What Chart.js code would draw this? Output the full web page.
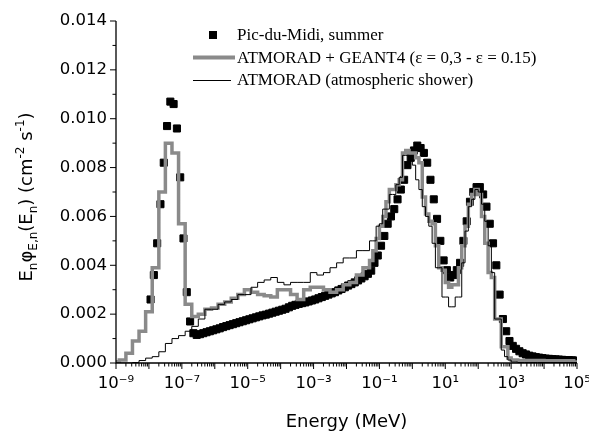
<!DOCTYPE html>
<html>
<head>
<meta charset="utf-8">
<script src="https://cdn.jsdelivr.net/npm/chart.js@4.4.0/dist/chart.umd.min.js"></script>
<style>
  html, body { margin: 0; padding: 0; background: #fff; }
</style>
</head>
<body>
<canvas id="chart" width="589" height="434"></canvas>
<script>
// Pic-du-Midi measurement, summer (0.1 decade grid)
const pdmEnergy = [
  1.12e-8, 1.41e-8, 1.78e-8, 2.24e-8, 2.82e-8, 3.55e-8, 4.47e-8, 5.62e-8, 7.08e-8, 8.91e-8,
  1.12e-7, 1.41e-7, 1.78e-7, 2.24e-7, 2.82e-7, 3.55e-7, 4.47e-7, 5.62e-7, 7.08e-7, 8.91e-7,
  1.12e-6, 1.41e-6, 1.78e-6, 2.24e-6, 2.82e-6, 3.55e-6, 4.47e-6, 5.62e-6, 7.08e-6, 8.91e-6,
  1.12e-5, 1.41e-5, 1.78e-5, 2.24e-5, 2.82e-5, 3.55e-5, 4.47e-5, 5.62e-5, 7.08e-5, 8.91e-5,
  1.12e-4, 1.41e-4, 1.78e-4, 2.24e-4, 2.82e-4, 3.55e-4, 4.47e-4, 5.62e-4, 7.08e-4, 8.91e-4,
  1.12e-3, 1.41e-3, 1.78e-3, 2.24e-3, 2.82e-3, 3.55e-3, 4.47e-3, 5.62e-3, 7.08e-3, 8.91e-3,
  1.12e-2, 1.41e-2, 1.78e-2, 2.24e-2, 2.82e-2, 3.55e-2, 4.47e-2, 5.62e-2, 7.08e-2, 8.91e-2,
  0.112, 0.141, 0.178, 0.224, 0.282, 0.355, 0.447, 0.562, 0.708, 0.891,
  1.12, 1.41, 1.78, 2.24, 2.82, 3.55, 4.47, 5.62, 7.08, 8.91,
  11.2, 14.1, 17.8, 22.4, 28.2, 35.5, 44.7, 56.2, 70.8, 89.1,
  112, 141, 178, 224, 282, 355, 447, 562, 708, 891,
  1120, 1410, 1780, 2240, 2820, 3550, 4470, 5620, 7080, 8910,
  11200, 14100, 17800, 22400, 28200, 35500, 44700, 56200, 70800, 89100
];
const pdmFlux = [
  0.0026, 0.0036, 0.0049, 0.0065, 0.0082, 0.0097, 0.0107, 0.0106, 0.0096, 0.0076,
  0.0051, 0.0029, 0.0017, 0.00122, 0.00115, 0.00118, 0.00122, 0.00126, 0.0013, 0.00134,
  0.00138, 0.00142, 0.00147, 0.00151, 0.00155, 0.00159, 0.00163, 0.00167, 0.00171, 0.00175,
  0.00179, 0.00183, 0.00187, 0.00191, 0.00195, 0.00198, 0.00202, 0.00206, 0.0021, 0.00214,
  0.00218, 0.00222, 0.00228, 0.00234, 0.00238, 0.00242, 0.00245, 0.00248, 0.00252, 0.00256,
  0.0026, 0.00265, 0.0027, 0.00275, 0.0028, 0.00285, 0.0029, 0.00297, 0.00303, 0.0031,
  0.00317, 0.00323, 0.0033, 0.00338, 0.00346, 0.00355, 0.00365, 0.00378, 0.0041, 0.0044,
  0.0048, 0.0052, 0.0057, 0.006, 0.0063, 0.0067, 0.0071, 0.0075, 0.0081, 0.0084,
  0.0087, 0.0089, 0.0088, 0.0086, 0.0082, 0.0075, 0.0067, 0.0059, 0.005, 0.0042,
  0.0038, 0.0035, 0.0036, 0.0038, 0.0041, 0.005, 0.0058, 0.0066, 0.007, 0.0072,
  0.0072, 0.0069, 0.0064, 0.0057, 0.0049, 0.004, 0.0028, 0.0018, 0.0013, 0.0009,
  0.0007, 0.00058, 0.00048, 0.0004, 0.00035, 0.0003, 0.00027, 0.00024, 0.00022, 0.0002,
  0.00018, 0.00017, 0.00016, 0.00015, 0.00014, 0.00013, 0.00012, 0.00012, 0.00011, 0.0001
];

// simulation histograms (left bin edges)
const binEdges = [
  1e-9, 1.26e-9, 2e-9, 3.16e-9, 5.01e-9, 7.94e-9,
  1.26e-8, 2e-8, 3.16e-8, 5.01e-8, 7.94e-8,
  1.26e-7, 2e-7, 3.16e-7, 5.01e-7, 7.94e-7,
  1.26e-6, 2e-6, 3.16e-6, 5.01e-6, 7.94e-6,
  1.26e-5, 2e-5, 3.16e-5, 5.01e-5, 7.94e-5,
  1.26e-4, 2e-4, 3.16e-4, 5.01e-4, 7.94e-4,
  1.26e-3, 2e-3, 3.16e-3, 5.01e-3, 7.94e-3,
  1.26e-2, 2e-2, 3.16e-2, 5.01e-2, 6.31e-2, 7.94e-2,
  0.1, 0.126, 0.158, 0.2, 0.251, 0.316, 0.398, 0.501, 0.631, 0.794,
  1, 1.26, 1.58, 2, 2.51, 3.16, 3.98, 5.01, 6.31, 7.94,
  10, 12.6, 15.8, 20, 25.1, 31.6, 39.8, 50.1, 63.1, 79.4,
  100, 126, 158, 200, 251, 316, 398, 501, 631, 794,
  1000, 1585, 2512, 3981, 6310,
  10000, 15850, 25120, 39810, 63100, 79400, 100000
];
const geantFlux = [
  0.00005, 0.00012, 0.0004, 0.0009, 0.0013, 0.0021,
  0.0039, 0.007, 0.009, 0.0086, 0.0057,
  0.0024, 0.0019, 0.002, 0.0022, 0.00225,
  0.0024, 0.0025, 0.00265, 0.0028, 0.003,
  0.0029, 0.0028, 0.00275, 0.0027, 0.003,
  0.003, 0.0028, 0.0026, 0.003, 0.0031,
  0.0031, 0.003, 0.0029, 0.003, 0.0032,
  0.0033, 0.0036, 0.0039, 0.0042, 0.0046, 0.0051,
  0.0056, 0.006, 0.0066, 0.0071, 0.0071, 0.0073, 0.0075, 0.0086, 0.0087, 0.0086,
  0.0086, 0.0084, 0.0082, 0.0068, 0.0061, 0.0058, 0.0057, 0.0048, 0.0039, 0.0038,
  0.0033, 0.0031, 0.0032, 0.0032, 0.0039, 0.0048, 0.0056, 0.0065, 0.0069, 0.0071,
  0.0069, 0.006, 0.0049, 0.0037, 0.0035, 0.0018, 0.0018, 0.00067, 0.00067, 0.0002,
  0.00012, 0.0001, 0.0001, 0.0001, 0.0001,
  0.00009, 0.00009, 0.00009, 0.00009, 0.00009, 0.00004, 0.00004
];
const atmoradFlux = [
  0, 0, 0, 0.00002, 0.0001, 0.0002,
  0.00026, 0.00046, 0.0008, 0.001, 0.00112,
  0.0013, 0.0015, 0.0018, 0.0022, 0.0022,
  0.0024, 0.0025, 0.0026, 0.0028, 0.0028,
  0.0031, 0.0033, 0.0034, 0.0035, 0.0033,
  0.0032, 0.0033, 0.0033, 0.0033, 0.0037,
  0.0036, 0.0037, 0.0039, 0.0041, 0.0043,
  0.0043, 0.0046, 0.0046, 0.005, 0.005, 0.0056,
  0.0057, 0.0063, 0.0063, 0.0069, 0.0069, 0.0073, 0.0076, 0.0085, 0.0085, 0.0084,
  0.0081, 0.0075, 0.0071, 0.0064, 0.006, 0.0056, 0.0049, 0.0039, 0.0039, 0.0027,
  0.0027, 0.0023, 0.0023, 0.0027, 0.0027, 0.0041, 0.0054, 0.0064, 0.0067, 0.0071,
  0.007, 0.0065, 0.0058, 0.0048, 0.0037, 0.0018, 0.0018, 0.00053, 0.00026, 0.00012,
  0.00004, 0.00002, 0.00002, 0.00002, 0.00002,
  0.00002, 0.00002, 0.00002, 0.00002, 0.00002, 0.00002, 0.00002
];

const xTickValues = [1e-9, 1e-7, 1e-5, 1e-3, 1e-1, 1e1, 1e3, 1e5];
const xTickLabels = ['10⁻⁹', '10⁻⁷', '10⁻⁵', '10⁻³', '10⁻¹', '10¹', '10³', '10⁵'];
const yTickValues = [0, 0.002, 0.004, 0.006, 0.008, 0.010, 0.012, 0.014];
const yTickLabels = ['0.000', '0.002', '0.004', '0.006', '0.008', '0.010', '0.012', '0.014'];

const seriesNames = ['Pic-du-Midi, summer', 'ATMORAD + GEANT4 (ε = 0,3 - ε = 0.15)', 'ATMORAD (atmospheric shower)'];

const GRAY = '#8a8a8a';
const SANS = "'DejaVu Sans', Verdana, sans-serif";
const SERIF = "'Liberation Serif', 'Times New Roman', serif";

function toPoints(xs, ys) {
  return xs.map((x, i) => ({ x: x, y: ys[i] }));
}

// axes lines, ticks, titles and legend
const decor = {
  id: 'decor',
  afterDraw(chart) {
    const { ctx, chartArea: a, scales: { x, y } } = chart;
    ctx.save();
    ctx.strokeStyle = '#000';
    ctx.lineWidth = 1.3;
    ctx.beginPath();
    ctx.moveTo(a.left, a.top);
    ctx.lineTo(a.left, a.bottom);
    ctx.lineTo(a.right, a.bottom);
    ctx.stroke();

    ctx.lineWidth = 1;
    ctx.beginPath();
    for (let d = -9; d <= 5; d++) {
      const px = x.getPixelForValue(Math.pow(10, d));
      ctx.moveTo(px, a.bottom); ctx.lineTo(px, a.bottom + 6);
      if (d < 5) {
        for (let k = 2; k <= 9; k++) {
          const pm = x.getPixelForValue(k * Math.pow(10, d));
          ctx.moveTo(pm, a.bottom); ctx.lineTo(pm, a.bottom + 3.5);
        }
      }
    }
    yTickValues.forEach((v, i) => {
      const py = y.getPixelForValue(v);
      ctx.moveTo(a.left, py); ctx.lineTo(a.left - 6, py);
      if (i < yTickValues.length - 1) {
        const pm = y.getPixelForValue(v + 0.001);
        ctx.moveTo(a.left, pm); ctx.lineTo(a.left - 3.5, pm);
      }
    });
    ctx.stroke();

    // x title
    ctx.fillStyle = '#000';
    ctx.font = '18px ' + SANS;
    ctx.textAlign = 'center';
    ctx.textBaseline = 'alphabetic';
    ctx.fillText('Energy (MeV)', (a.left + a.right) / 2, 427);

    // y title with sub/superscripts
    const big = '18px ' + SANS, small = '12px ' + SANS;
    const parts = [
      ['E', big, 0], ['n', small, 5], ['φ', big, 0], ['E,n', small, 5],
      ['(E', big, 0], ['n', small, 5], [') (cm', big, 0], ['-2', small, -8],
      [' s', big, 0], ['-1', small, -8], [')', big, 0]
    ];
    let total = 0;
    parts.forEach(p => { ctx.font = p[1]; total += ctx.measureText(p[0]).width; });
    ctx.translate(32, 197);
    ctx.rotate(-Math.PI / 2);
    ctx.textAlign = 'left';
    let cx = -total / 2;
    parts.forEach(p => {
      ctx.font = p[1];
      ctx.fillText(p[0], cx, p[2]);
      cx += ctx.measureText(p[0]).width;
    });
    ctx.setTransform(1, 0, 0, 1, 0, 0);

    // legend
    const rows = [35, 57.5, 80];
    ctx.fillStyle = '#000';
    ctx.fillRect(209, rows[0] - 4, 8, 8);
    ctx.strokeStyle = GRAY;
    ctx.lineWidth = 4;
    ctx.beginPath(); ctx.moveTo(193, rows[1]); ctx.lineTo(235, rows[1]); ctx.stroke();
    ctx.strokeStyle = '#000';
    ctx.lineWidth = 1;
    ctx.beginPath(); ctx.moveTo(193, rows[2] + 0.5); ctx.lineTo(231, rows[2] + 0.5); ctx.stroke();
    ctx.font = '17px ' + SERIF;
    ctx.textBaseline = 'middle';
    seriesNames.forEach((n, i) => ctx.fillText(n, 237, rows[i] + 1));
    ctx.restore();
  }
};

const ctx = document.getElementById('chart');
new Chart(ctx, {
  type: 'line',
  data: {
    datasets: [
      {
        label: seriesNames[0],
        data: toPoints(pdmEnergy, pdmFlux),
        showLine: false,
        pointStyle: 'rect',
        pointRadius: 5,
        pointBorderWidth: 1,
        pointBackgroundColor: '#000',
        pointBorderColor: '#000',
        order: 3
      },
      {
        label: seriesNames[1],
        data: toPoints(binEdges, geantFlux),
        stepped: true,
        borderColor: GRAY,
        borderWidth: 3.5,
        pointRadius: 0,
        fill: false,
        order: 2
      },
      {
        label: seriesNames[2],
        data: toPoints(binEdges, atmoradFlux),
        stepped: true,
        borderColor: '#000',
        borderWidth: 1,
        pointRadius: 0,
        fill: false,
        order: 1
      }
    ]
  },
  options: {
    responsive: false,
    animation: false,
    layout: { padding: { left: 0, right: 12, top: 21, bottom: 0 } },
    plugins: { legend: { display: false }, tooltip: { enabled: false } },
    scales: {
      x: {
        type: 'logarithmic',
        min: 1e-9,
        max: 1e5,
        afterBuildTicks: s => { s.ticks = xTickValues.map(v => ({ value: v })); },
        afterFit: s => { s.height = 71; s.paddingLeft = 0; s.paddingRight = 0; },
        grid: { display: false, drawTicks: false },
        border: { display: false },
        ticks: {
          autoSkip: false,
          maxRotation: 0,
          padding: 11,
          color: '#000',
          font: { family: SANS, size: 16.5 },
          callback: (v, i) => xTickLabels[i]
        }
      },
      y: {
        min: 0,
        max: 0.014,
        afterBuildTicks: s => { s.ticks = yTickValues.map(v => ({ value: v })); },
        afterFit: s => { s.width = 116; s.paddingTop = 0; s.paddingBottom = 0; },
        grid: { display: false, drawTicks: false },
        border: { display: false },
        ticks: {
          padding: 9,
          color: '#000',
          font: { family: SANS, size: 16.5 },
          callback: (v, i) => yTickLabels[i]
        }
      }
    }
  },
  plugins: [decor]
});
</script>
</body>
</html>
